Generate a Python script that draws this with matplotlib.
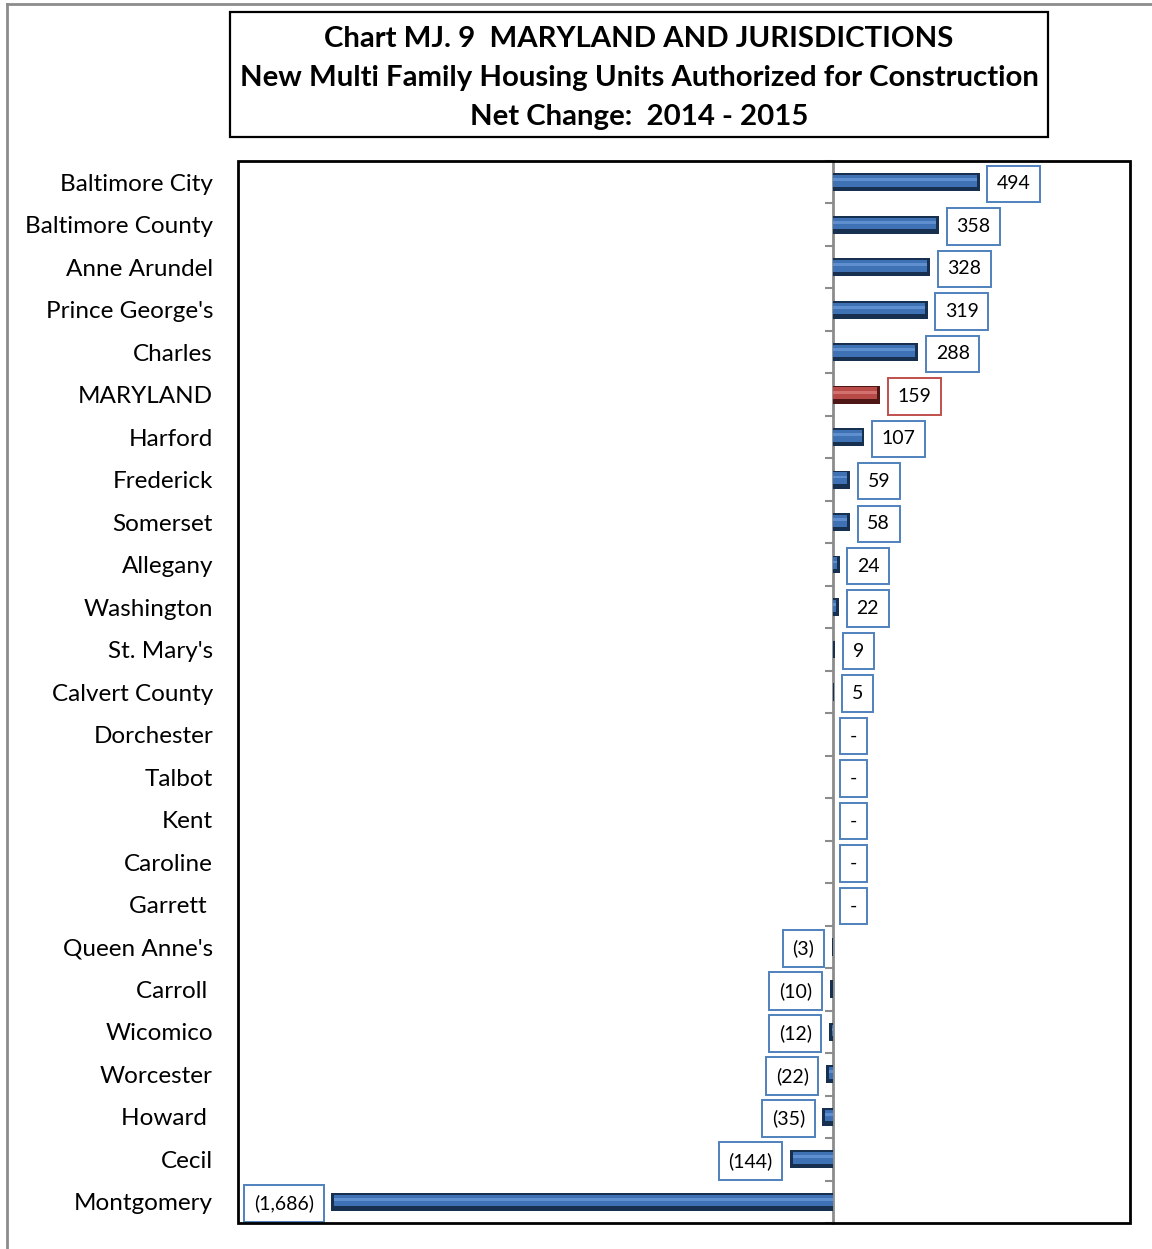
import matplotlib
matplotlib.use("Agg")
import matplotlib.pyplot as plt
from matplotlib.patches import Rectangle
from matplotlib.lines import Line2D
from matplotlib.transforms import blended_transform_factory, offset_copy
import numpy as np

plt.rcParams['font.family'] = ['Lato', 'DejaVu Sans']

jurisdictions = [
    "Baltimore City", "Baltimore County", "Anne Arundel", "Prince George's",
    "Charles", "MARYLAND", "Harford", "Frederick", "Somerset", "Allegany",
    "Washington", "St. Mary's", "Calvert County", "Dorchester", "Talbot",
    "Kent", "Caroline", "Garrett ", "Queen Anne's", "Carroll ", "Wicomico",
    "Worcester", "Howard ", "Cecil", "Montgomery",
]
net_change = [
    494, 358, 328, 319, 288, 159, 107, 59, 58, 24, 22, 9, 5,
    0, 0, 0, 0, 0, -3, -10, -12, -22, -35, -144, -1686,
]
title_lines = [
    "Chart MJ. 9  MARYLAND AND JURISDICTIONS",
    "New Multi Family Housing Units Authorized for Construction",
    "Net Change:  2014 - 2015",
]
x_limits = (-2000, 1000)

W, H = 1152, 1249
fig = plt.figure(figsize=(W / 100, H / 100), dpi=100)
fig.patch.set_facecolor("white")

# outer chart frame (left and top edges)
fig.add_artist(Line2D([7 / W, 7 / W], [0, 1 - 4 / H], color="#8c8c8c", lw=2))
fig.add_artist(Line2D([7 / W, 1], [1 - 4 / H, 1 - 4 / H], color="#8c8c8c", lw=2))

ax = fig.add_axes([238 / W, 1 - 1223 / H, (1130 - 238) / W, (1223 - 161) / H])

y = np.arange(len(jurisdictions))
vals = np.array(net_change, dtype=float)
is_state = np.array([j == "MARYLAND" for j in jurisdictions])

base_cols = np.where(is_state, "#b84a47", "#3f72b5")
edge_cols = np.where(is_state, "#4e1716", "#17304f")
hi_cols = np.where(is_state, "#d2716e", "#5f8fce")

# bevelled bars: dark shell, inset face, soft highlight near the top
bar_h = 0.42
inset = np.sign(vals) * np.maximum(np.abs(vals) - 10, 0)
ax.barh(y, vals, height=bar_h, color=list(edge_cols), zorder=3)
ax.barh(y - 0.03, inset, height=bar_h * 0.66, color=list(base_cols), zorder=4)
ax.barh(y - 0.06, inset, height=bar_h * 0.16, color=list(hi_cols), zorder=5)

ax.set_xlim(*x_limits)
ax.set_ylim(len(jurisdictions) - 0.5, -0.5)

# data labels in boxes
for yi, v, st in zip(y, vals, is_state):
    if v > 0:
        txt = f"{int(v):,}"
    elif v < 0:
        txt = f"({int(-v):,})"
    else:
        txt = "-"
    ec = "#c0504d" if st else "#4f81bd"
    if v >= 0:
        off, ha = 12.5, "left"
    else:
        off, ha = -12.5, "right"
    ax.annotate(txt, xy=(v, yi), xytext=(off, -1.2), textcoords="offset points",
                ha=ha, va="center", fontsize=14, color="black", zorder=6,
                bbox=dict(boxstyle="square,pad=0.5", fc="white", ec=ec, lw=1.4))

# category axis sitting at zero
for s in ["top", "right", "bottom"]:
    ax.spines[s].set_visible(False)
ax.spines["left"].set_position(("data", 0))
ax.spines["left"].set_color("#8c8c8c")
ax.spines["left"].set_linewidth(2)
ax.spines["left"].set_zorder(2)
ax.set_yticks(np.arange(-0.5, len(jurisdictions) + 0.5, 1.0))
ax.set_yticklabels([])
ax.tick_params(axis="y", direction="out", length=6, width=1.5, color="#8c8c8c")
ax.set_xticks([])

trans = offset_copy(blended_transform_factory(ax.transAxes, ax.transData),
                    fig=fig, x=0, y=-1.5, units="points")
for yi, name in zip(y, jurisdictions):
    ax.text(-25 / (1130 - 238), yi, name, transform=trans, ha="right",
            va="center", fontsize=17.5, color="black")

# plot-area border
ax.add_patch(Rectangle((0, 0), 1, 1, transform=ax.transAxes, fill=False,
                       ec="black", lw=2, clip_on=False, zorder=10))

# title box
tb = Rectangle((230 / W, 1 - 137 / H), (1048 - 230) / W, (137 - 12) / H,
               transform=fig.transFigure, fill=False, ec="black", lw=1.6)
fig.add_artist(tb)
for i, line in enumerate(title_lines):
    fig.text(639 / W, 1 - (39 + 39 * i) / H, line, ha="center", va="center",
             fontsize=21.2, fontweight="bold", color="black")

fig.savefig("out.png", dpi=100, facecolor="white")
